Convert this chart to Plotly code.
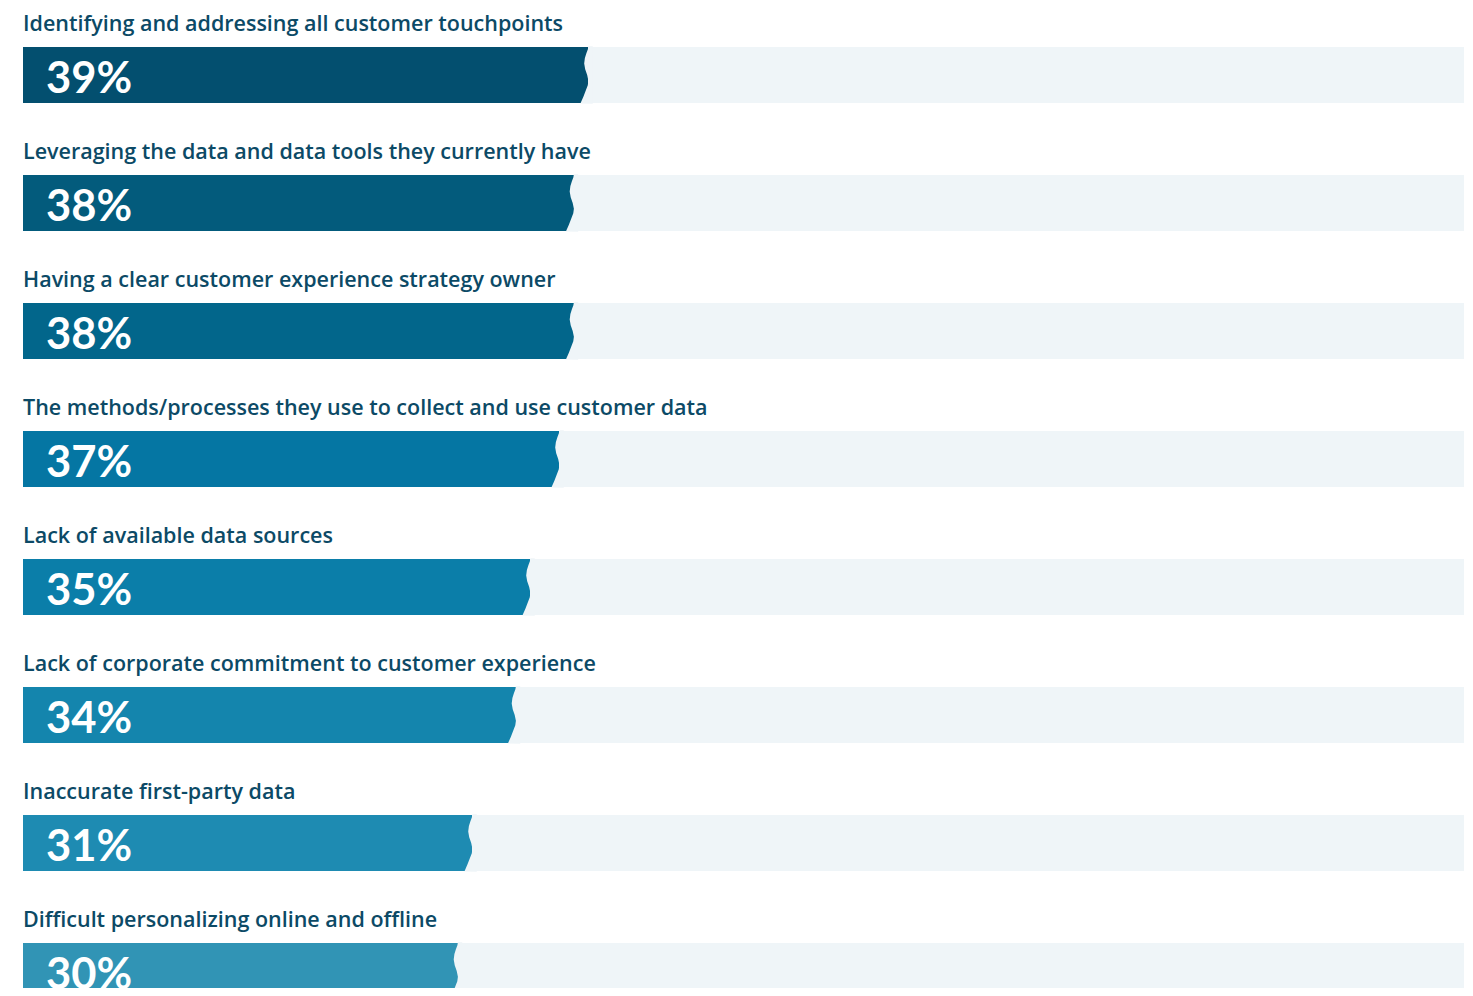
import plotly.graph_objects as go

categories = [
    "Identifying and addressing all customer touchpoints",
    "Leveraging the data and data tools they currently have",
    "Having a clear customer experience strategy owner",
    "The methods/processes they use to collect and use customer data",
    "Lack of available data sources",
    "Lack of corporate commitment to customer experience",
    "Inaccurate first-party data",
    "Difficult personalizing online and offline",
]
values = [39, 38, 38, 37, 35, 34, 31, 30]
value_labels = ["39%", "38%", "38%", "37%", "35%", "34%", "31%", "30%"]
bar_colors = ["#034F6F", "#035B7C", "#02668B", "#0576A3",
              "#0B7EA9", "#1485AD", "#1E8BB2", "#3194B5"]

TRACK_MAX = 99.4
TRACK_COLOR = "#EFF5F8"
LABEL_COLOR = "#0C4A66"
BAR_W = 0.445
PX = TRACK_MAX / 1441.0  # data units per pixel

# wavy right edge profile: (fraction of bar height from top, pixel offset)
wave = [(0.0, 0), (0.05, -0.5), (0.12, -2.0), (0.2, -3.5), (0.3, -4.2),
        (0.4, -3.2), (0.5, -1.2), (0.6, 0), (0.68, -0.6), (0.78, -2.5),
        (0.88, -5.0), (1.0, -8.0)]

pos = list(range(len(categories)))

fig = go.Figure()
fig.add_trace(go.Bar(
    x=[TRACK_MAX] * len(pos), y=pos, orientation="h", width=BAR_W,
    marker=dict(color=TRACK_COLOR, line=dict(width=0)),
    hoverinfo="skip", showlegend=False,
))
fig.add_trace(go.Bar(
    x=values, y=pos, orientation="h", width=BAR_W,
    marker=dict(color=bar_colors, line=dict(width=0)),
    hovertext=categories, hoverinfo="text+x", showlegend=False,
))

# cut the wavy edge out of each bar with the track colour
for i, v in zip(pos, values):
    top = i - BAR_W / 2
    xs = [v]
    ys = [top - 0.002]
    for f, d in wave:
        xs.append(v + d * PX)
        ys.append(top + f * BAR_W)
    xs += [v + 0.3, v + 0.3, v]
    ys += [top + BAR_W + 0.002, top - 0.002, top - 0.002]
    fig.add_trace(go.Scatter(
        x=xs, y=ys, mode="lines", fill="toself", fillcolor=TRACK_COLOR,
        line=dict(width=0, color=TRACK_COLOR), hoverinfo="skip",
        showlegend=False,
    ))

annotations = []
for i, (cat, lab) in enumerate(zip(categories, value_labels)):
    annotations.append(dict(
        x=0, y=i, xref="x", yref="y", text=cat, showarrow=False,
        xanchor="left", yanchor="middle", yshift=52, xshift=-2,
        font=dict(family="Open Sans", size=21.5, color=LABEL_COLOR, weight=600),
    ))
    annotations.append(dict(
        x=0, y=i, xref="x", yref="y", text=lab, showarrow=False,
        xanchor="left", yanchor="middle", xshift=21, yshift=-1,
        font=dict(family="Lato", size=43.5, color="white", weight=700),
    ))

fig.update_layout(
    width=1457, height=980,
    margin=dict(l=15, r=1, t=0, b=0),
    paper_bgcolor="white", plot_bgcolor="white",
    barmode="overlay", bargap=0,
    xaxis=dict(range=[0, TRACK_MAX], visible=False, fixedrange=True),
    yaxis=dict(range=[7.133, -0.5234], visible=False, fixedrange=True),
    annotations=annotations,
    showlegend=False,
)

fig.write_html("out.html")
